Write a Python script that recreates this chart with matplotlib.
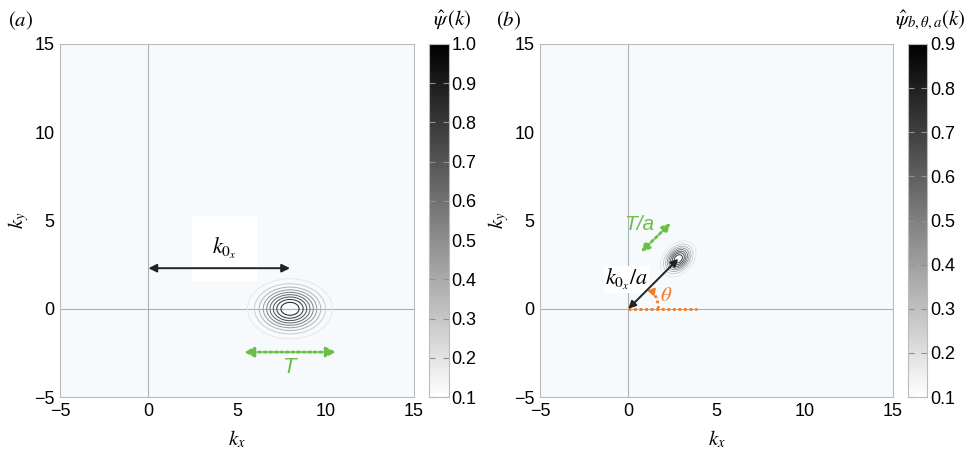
import numpy as np
import matplotlib
matplotlib.use("Agg")
import matplotlib.pyplot as plt
from matplotlib.patches import FancyArrowPatch, Arc

plt.rcParams["font.family"] = ["Liberation Sans", "DejaVu Sans"]
plt.rcParams["mathtext.fontset"] = "stix"

# Wavelet parameters
k0x = 8.0          # centre frequency
sig_x = 1.58       # spread along k_x
sig_y = 1.12       # spread along k_y
scale_a = 2.0      # dilation
theta_deg = 45.0   # rotation
amp_b = 0.9        # peak of dilated/rotated wavelet

levels_a = [0.1, 0.2, 0.3, 0.4, 0.5, 0.6, 0.7, 0.8, 0.9, 1.0]
levels_b = [0.1, 0.2, 0.3, 0.4, 0.5, 0.6, 0.7, 0.8, 0.9]
ticks_main = [-5, 0, 5, 10, 15]

GREEN = "#6cbf45"
ORANGE = "#f07c2a"
BG = "#f6fafd"
EDGE = "#b8bcc0"

kx, ky = np.meshgrid(np.linspace(-5, 15, 801), np.linspace(-5, 15, 801))
psi_a = np.exp(-((kx - k0x) ** 2 / sig_x ** 2 + ky ** 2 / sig_y ** 2))

th = np.deg2rad(theta_deg)
c = k0x / scale_a
cx, cy = c * np.cos(th), c * np.sin(th)
u = (kx - cx) * np.cos(th) + (ky - cy) * np.sin(th)
v = -(kx - cx) * np.sin(th) + (ky - cy) * np.cos(th)
psi_b = amp_b * np.exp(-(u ** 2 / (sig_x / scale_a) ** 2 + v ** 2 / (sig_y / scale_a) ** 2))

fig = plt.figure(figsize=(9.67, 4.57), dpi=100)
ax1 = fig.add_axes([0.062, 0.131, 0.366, 0.773])
cax1 = fig.add_axes([0.4436, 0.131, 0.0205, 0.773])
ax2 = fig.add_axes([0.5585, 0.131, 0.365, 0.773])
cax2 = fig.add_axes([0.939, 0.131, 0.0200, 0.773])


def style_axes(ax):
    ax.set_facecolor(BG)
    ax.set_xlim(-5, 15)
    ax.set_ylim(-5, 15)
    ax.set_xticks(ticks_main)
    ax.set_yticks(ticks_main)
    ax.set_xticklabels(["\u22125", "0", "5", "10", "15"])
    ax.set_yticklabels(["\u22125", "0", "5", "10", "15"])
    ax.tick_params(length=0, labelsize=13, pad=4)
    for s in ax.spines.values():
        s.set_color(EDGE)
        s.set_linewidth(0.8)
    ax.axhline(0, color="#a9b2ba", lw=0.8, zorder=1)
    ax.axvline(0, color="#a9b2ba", lw=0.8, zorder=1)
    ax.set_xlabel(r"$k_x$", fontsize=15, labelpad=6)
    ax.set_ylabel(r"$k_y$", fontsize=15, labelpad=2)


def style_cbar(cb, cax):
    cax.tick_params(direction="in", left=True, right=True, length=4,
                    color="#909090", labelsize=13, pad=2)
    cb.outline.set_edgecolor(EDGE)
    cb.outline.set_linewidth(0.8)


def double_arrow(ax, p0, p1, color, lw, ls="-", ms=12):
    ax.add_patch(FancyArrowPatch(p0, p1, arrowstyle="<|-|>", mutation_scale=ms,
                                 color=color, lw=lw, ls=ls,
                                 shrinkA=0, shrinkB=0, zorder=5))


cmap = plt.get_cmap("gray_r")

# (a) mother wavelet
style_axes(ax1)
ax1.contour(kx, ky, psi_a, levels=levels_a, cmap=cmap, vmin=0.0, vmax=1.0,
            linewidths=0.7, zorder=3)
sm1 = plt.cm.ScalarMappable(cmap=cmap, norm=plt.Normalize(0.1, 1.0))
cb1 = fig.colorbar(sm1, cax=cax1, ticks=levels_a)
cb1.ax.set_yticklabels([f"{t:.1f}" for t in levels_a])
style_cbar(cb1, cax1)
fig.text(0.468, 0.955, r"$\hat{\psi}\,(k)$", fontsize=15, ha="center", va="center")
fig.text(0.008, 0.955, r"$(a)$", fontsize=15, ha="left", va="center")

double_arrow(ax1, (0, 2.3), (k0x, 2.3), "#222222", 1.4)
ax1.text(4.3, 3.4, r"$k_{0_x}$", fontsize=16, ha="center", va="center", zorder=4,
         bbox=dict(boxstyle="square,pad=0.9", fc="white", ec="none"))
double_arrow(ax1, (5.4, -2.45), (10.6, -2.45), GREEN, 2.0, (0, (1, 1)), ms=14)
ax1.text(8.0, -3.3, "T", fontsize=16, color=GREEN, style="italic",
         ha="center", va="center")

# (b) dilated and rotated wavelet
style_axes(ax2)
ax2.contour(kx, ky, psi_b, levels=levels_b, cmap=cmap, vmin=0.0, vmax=0.9,
            linewidths=0.6, zorder=3)
sm2 = plt.cm.ScalarMappable(cmap=cmap, norm=plt.Normalize(0.1, 0.9))
cb2 = fig.colorbar(sm2, cax=cax2, ticks=levels_b)
cb2.ax.set_yticklabels([f"{t:.1f}" for t in levels_b])
style_cbar(cb2, cax2)
fig.text(0.962, 0.955, r"$\hat{\psi}_{b,\theta,a}(k)$", fontsize=15, ha="center", va="center")
fig.text(0.513, 0.955, r"$(b)$", fontsize=15, ha="left", va="center")

ax2.plot([0, 3.9], [0, 0], color=ORANGE, lw=2.0, ls=(0, (1, 1)), zorder=4)
ax2.add_patch(Arc((0, 0), 3.4, 3.4, theta1=0, theta2=35, color=ORANGE,
                  lw=2.0, ls=(0, (1, 1)), zorder=4))
ax2.plot([1.35], [1.0], marker=(3, 0, 200), color=ORANGE, ms=6, zorder=5)
ax2.text(2.15, 0.75, r"$\theta$", fontsize=15, color=ORANGE, ha="center", va="center")
ax2.text(-0.1, 1.65, r"$k_{0_x}/a$", fontsize=16, ha="center", va="center", zorder=4,
         bbox=dict(boxstyle="square,pad=0.05", fc="white", ec="none"))
double_arrow(ax2, (0, 0), (cx, cy), "#222222", 1.4, ms=11)
double_arrow(ax2, (0.72, 3.22), (2.4, 4.85), GREEN, 2.0, (0, (1, 1)), ms=12)
ax2.text(0.6, 4.75, "T/a", fontsize=15, color=GREEN, style="italic",
         ha="center", va="center")

fig.savefig("out.png", dpi=100)
